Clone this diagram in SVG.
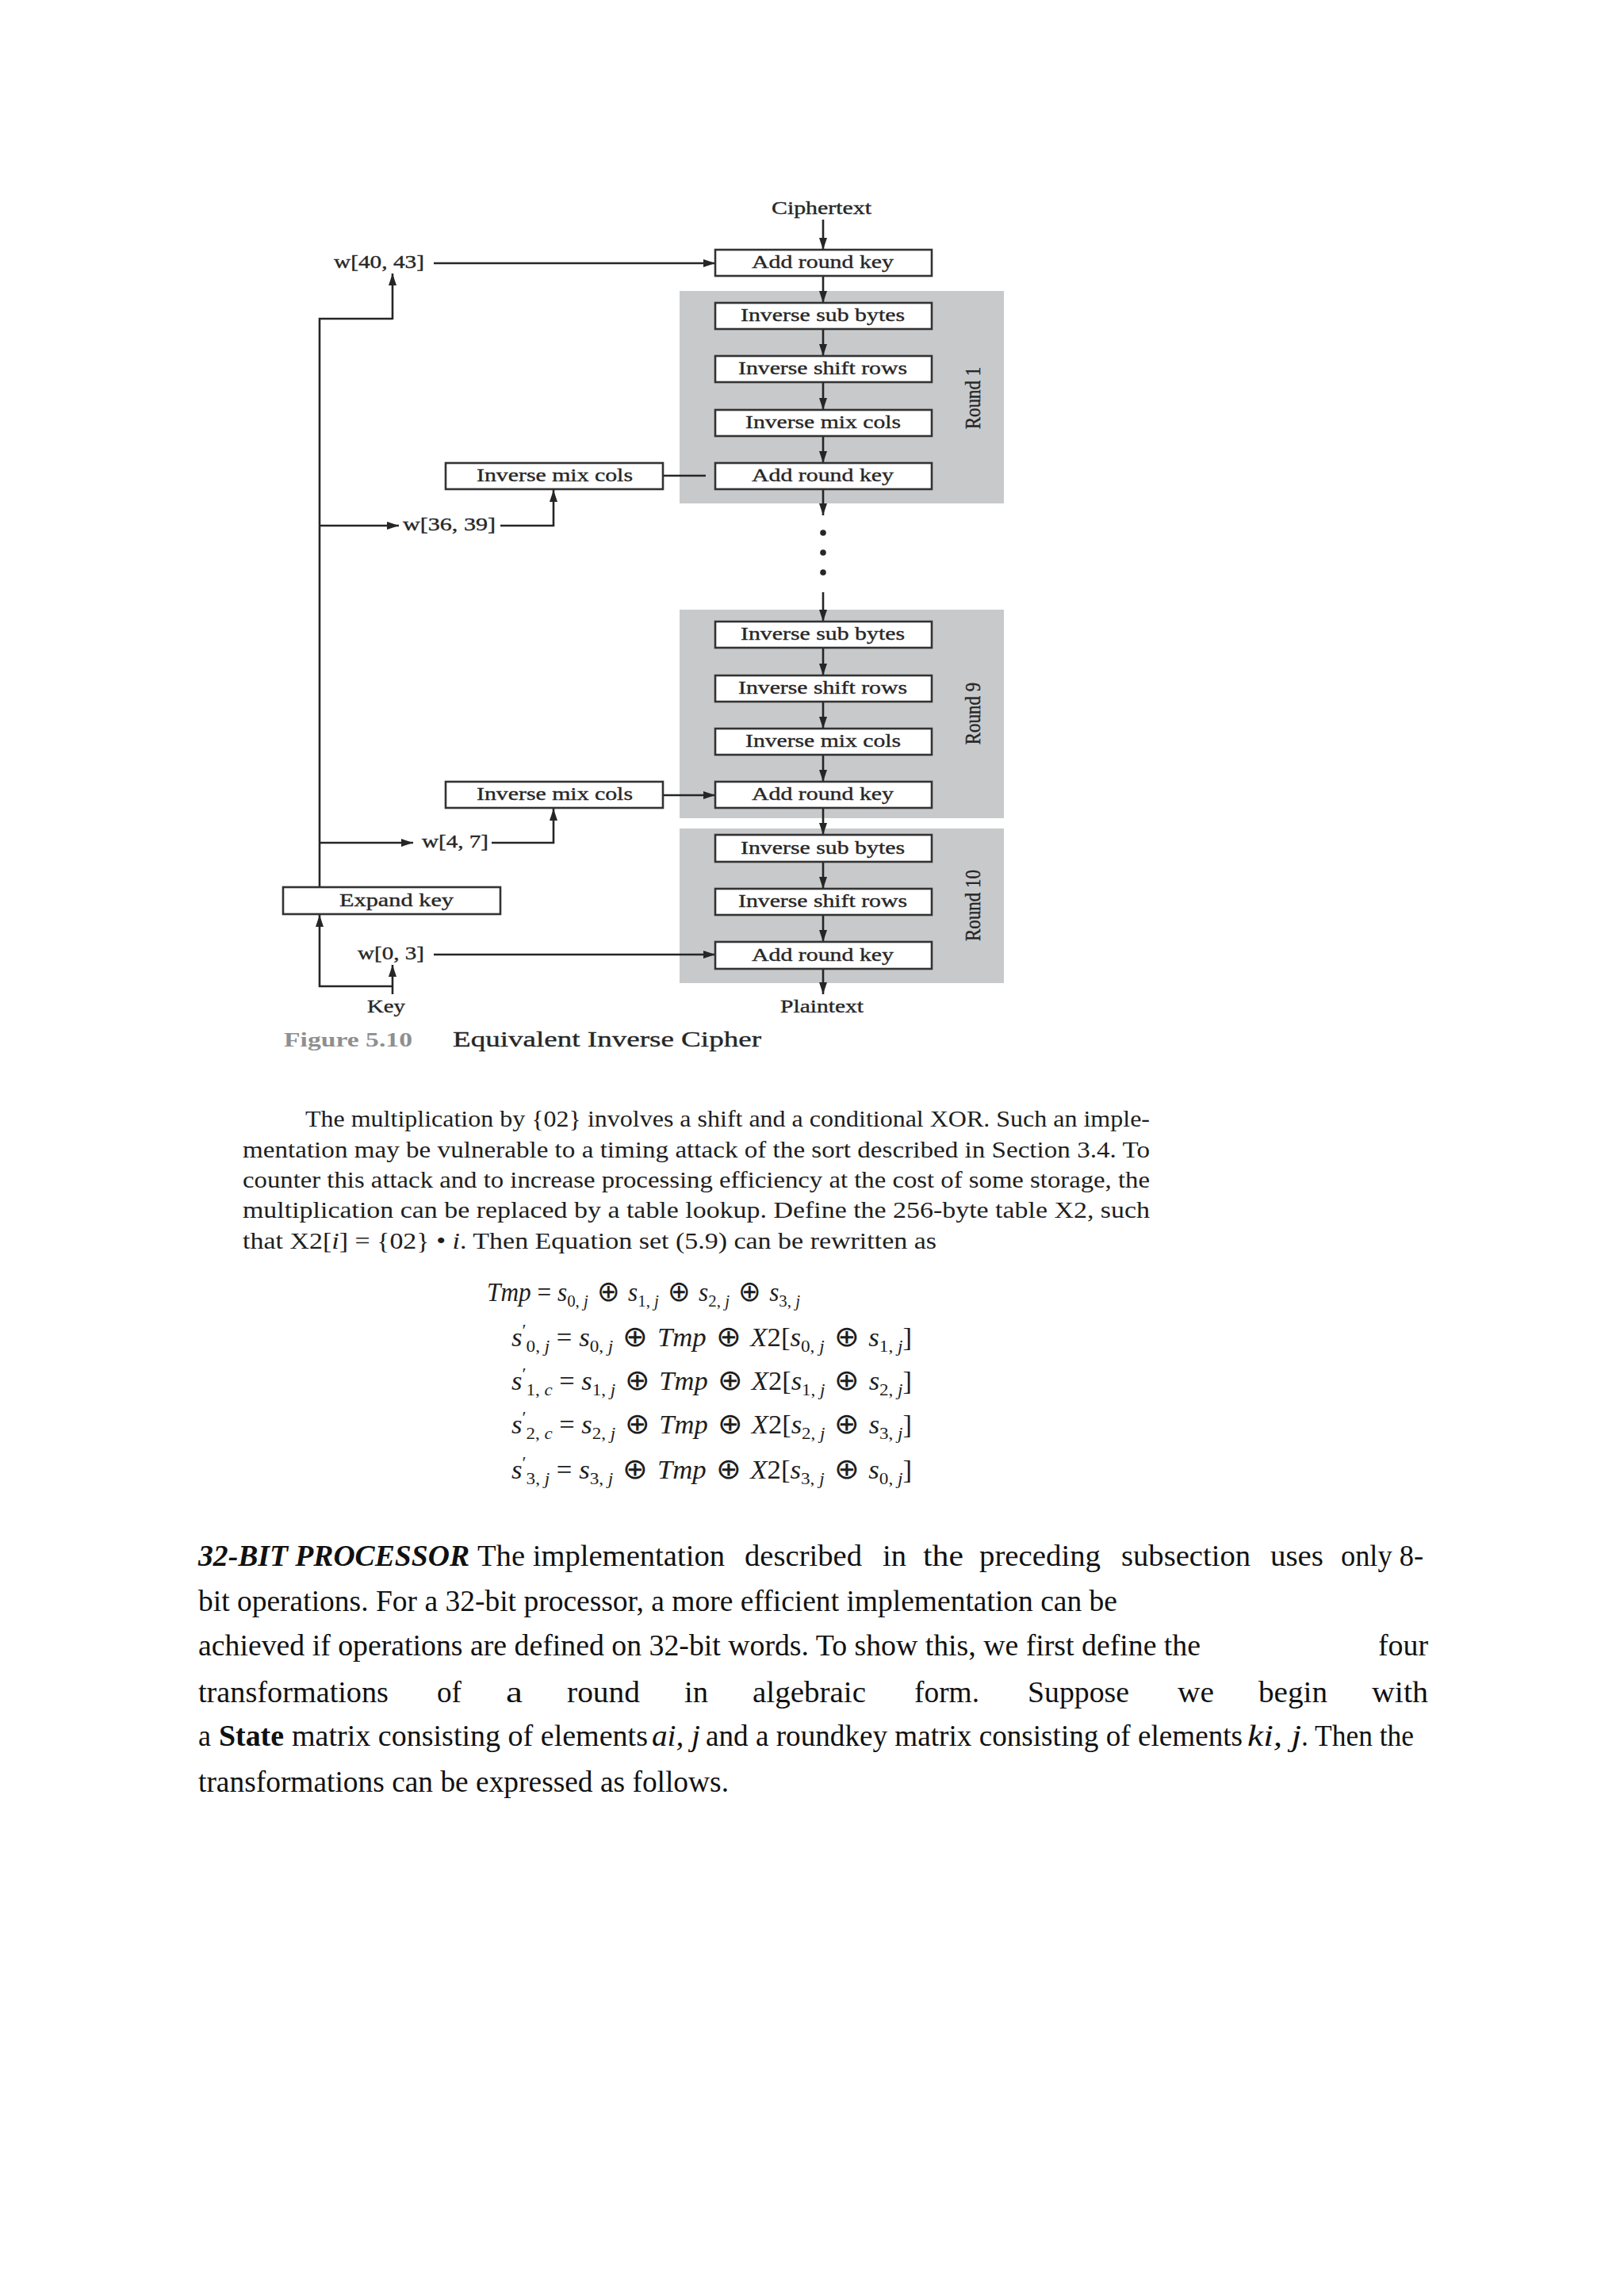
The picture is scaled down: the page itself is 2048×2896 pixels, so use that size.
<svg xmlns="http://www.w3.org/2000/svg" width="2048" height="2896" viewBox="0 0 2048 2896">
<defs>
<style>
.ft{font-family:"Liberation Serif","DejaVu Serif",serif;font-size:23px;fill:#262626;stroke:#262626;stroke-width:0.35}
.box{fill:#ffffff;stroke:#333333;stroke-width:2.6}
.round{fill:#c8c9cb}
.ln{fill:none;stroke:#262626;stroke-width:2.6}
.arr{fill:none;stroke:#262626;stroke-width:2.6;marker-end:url(#ah)}
.p1{font-family:"Liberation Serif","DejaVu Serif",serif;font-size:30px;fill:#1e1e1e}
.eq{font-family:"Liberation Serif","DejaVu Serif",serif;font-size:33px;fill:#1e1e1e}
.sb{font-size:22px;font-style:normal}
.op{font-family:"DejaVu Sans","Liberation Serif",serif;font-size:36px;font-style:normal;font-weight:200}
.p2{font-family:"Liberation Serif","DejaVu Serif",serif;font-size:37px;fill:#111111}
</style>
<marker id="ah" viewBox="0 0 15 10" refX="15" refY="5" markerWidth="15" markerHeight="10" markerUnits="userSpaceOnUse" orient="auto">
<path d="M0,0 L15,5 L0,10 Z" fill="#262626"/>
</marker>
</defs>
<rect x="0" y="0" width="2048" height="2896" fill="#ffffff"/>

<g id="round-bands">
<g id="round1"><rect class="round" x="857" y="367" width="409" height="268"/><text class="ft" text-anchor="middle" transform="translate(1236,502) rotate(-90) scale(1,1.2)">Round 1</text></g>
<g id="round9"><rect class="round" x="857" y="769" width="409" height="263"/><text class="ft" text-anchor="middle" transform="translate(1236,900) rotate(-90) scale(1,1.2)">Round 9</text></g>
<g id="round10"><rect class="round" x="857" y="1045" width="409" height="195"/><text class="ft" text-anchor="middle" transform="translate(1236,1142) rotate(-90) scale(1,1.2)">Round 10</text></g>
</g>

<g id="connectors">
<line class="arr" x1="1038" y1="277" x2="1038" y2="315"/>
<line class="arr" x1="1038" y1="348" x2="1038" y2="382"/>
<line class="arr" x1="1038" y1="415" x2="1038" y2="449"/>
<line class="arr" x1="1038" y1="482" x2="1038" y2="517"/>
<line class="arr" x1="1038" y1="550" x2="1038" y2="584"/>
<line class="arr" x1="1038" y1="617" x2="1038" y2="650"/>
<circle cx="1038" cy="672" r="3.8" fill="#262626"/>
<circle cx="1038" cy="697" r="3.8" fill="#262626"/>
<circle cx="1038" cy="722" r="3.8" fill="#262626"/>
<line class="arr" x1="1038" y1="747" x2="1038" y2="784"/>
<line class="arr" x1="1038" y1="817" x2="1038" y2="852"/>
<line class="arr" x1="1038" y1="885" x2="1038" y2="919"/>
<line class="arr" x1="1038" y1="952" x2="1038" y2="986"/>
<line class="arr" x1="1038" y1="1019" x2="1038" y2="1053"/>
<line class="arr" x1="1038" y1="1087" x2="1038" y2="1121"/>
<line class="arr" x1="1038" y1="1154" x2="1038" y2="1188"/>
<line class="arr" x1="1038" y1="1222" x2="1038" y2="1254"/>
<line class="arr" x1="547" y1="332" x2="902" y2="332"/>
<line class="ln" x1="836" y1="600" x2="890" y2="600"/>
<line class="arr" x1="836" y1="1003" x2="902" y2="1003"/>
<line class="arr" x1="547" y1="1204" x2="902" y2="1204"/>
<polyline class="ln" points="403,1119 403,402 495,402"/>
<line class="arr" x1="495" y1="403" x2="495" y2="345"/>
<line class="arr" x1="403" y1="663" x2="503" y2="663"/>
<polyline class="arr" points="631,663 698,663 698,618"/>
<line class="arr" x1="403" y1="1063" x2="521" y2="1063"/>
<polyline class="arr" points="620,1063 698,1063 698,1020"/>
<line class="arr" x1="495" y1="1254" x2="495" y2="1217"/>
<polyline class="arr" points="496,1244 403,1244 403,1154"/>
</g>

<g id="ciphertext"><text class="ft" x="973" y="270" textLength="126" lengthAdjust="spacingAndGlyphs">Ciphertext</text></g>
<g id="ark0"><rect class="box" x="902" y="315" width="273" height="33"/><text class="ft" x="948" y="338" textLength="179" lengthAdjust="spacingAndGlyphs">Add round key</text></g>
<g id="isb1"><rect class="box" x="902" y="382" width="273" height="33"/><text class="ft" x="934" y="405" textLength="207" lengthAdjust="spacingAndGlyphs">Inverse sub bytes</text></g>
<g id="isr1"><rect class="box" x="902" y="449" width="273" height="33"/><text class="ft" x="931" y="472" textLength="213" lengthAdjust="spacingAndGlyphs">Inverse shift rows</text></g>
<g id="imc1"><rect class="box" x="902" y="517" width="273" height="33"/><text class="ft" x="940" y="540" textLength="196" lengthAdjust="spacingAndGlyphs">Inverse mix cols</text></g>
<g id="ark1"><rect class="box" x="902" y="584" width="273" height="33"/><text class="ft" x="948" y="607" textLength="179" lengthAdjust="spacingAndGlyphs">Add round key</text></g>
<g id="side-imc1"><rect class="box" x="562" y="584" width="274" height="33"/><text class="ft" x="601" y="607" textLength="197" lengthAdjust="spacingAndGlyphs">Inverse mix cols</text></g>
<g id="isb9"><rect class="box" x="902" y="784" width="273" height="33"/><text class="ft" x="934" y="807" textLength="207" lengthAdjust="spacingAndGlyphs">Inverse sub bytes</text></g>
<g id="isr9"><rect class="box" x="902" y="852" width="273" height="33"/><text class="ft" x="931" y="875" textLength="213" lengthAdjust="spacingAndGlyphs">Inverse shift rows</text></g>
<g id="imc9"><rect class="box" x="902" y="919" width="273" height="33"/><text class="ft" x="940" y="942" textLength="196" lengthAdjust="spacingAndGlyphs">Inverse mix cols</text></g>
<g id="ark9"><rect class="box" x="902" y="986" width="273" height="33"/><text class="ft" x="948" y="1009" textLength="179" lengthAdjust="spacingAndGlyphs">Add round key</text></g>
<g id="side-imc9"><rect class="box" x="562" y="986" width="274" height="33"/><text class="ft" x="601" y="1009" textLength="197" lengthAdjust="spacingAndGlyphs">Inverse mix cols</text></g>
<g id="isb10"><rect class="box" x="902" y="1053" width="273" height="34"/><text class="ft" x="934" y="1076.5" textLength="207" lengthAdjust="spacingAndGlyphs">Inverse sub bytes</text></g>
<g id="isr10"><rect class="box" x="902" y="1121" width="273" height="33"/><text class="ft" x="931" y="1144" textLength="213" lengthAdjust="spacingAndGlyphs">Inverse shift rows</text></g>
<g id="ark10"><rect class="box" x="902" y="1188" width="273" height="34"/><text class="ft" x="948" y="1211.5" textLength="179" lengthAdjust="spacingAndGlyphs">Add round key</text></g>
<g id="expand-key"><rect class="box" x="357" y="1119" width="274" height="34"/><text class="ft" x="428" y="1142.5" textLength="144" lengthAdjust="spacingAndGlyphs">Expand key</text></g>
<g id="plaintext"><text class="ft" x="984" y="1277" textLength="105" lengthAdjust="spacingAndGlyphs">Plaintext</text></g>
<g id="key"><text class="ft" x="463" y="1277" textLength="48" lengthAdjust="spacingAndGlyphs">Key</text></g>
<g id="w40"><text class="ft" x="421" y="338" textLength="114" lengthAdjust="spacingAndGlyphs">w[40, 43]</text></g>
<g id="w36"><text class="ft" x="508" y="669" textLength="117" lengthAdjust="spacingAndGlyphs">w[36, 39]</text></g>
<g id="w4"><text class="ft" x="532" y="1069" textLength="84" lengthAdjust="spacingAndGlyphs">w[4, 7]</text></g>
<g id="w0"><text class="ft" x="451" y="1210" textLength="84" lengthAdjust="spacingAndGlyphs">w[0, 3]</text></g>

<g id="caption">
<text class="ft" x="358" y="1320" font-weight="bold" style="fill:#8f8f8f;stroke:none;font-size:25px" textLength="162" lengthAdjust="spacingAndGlyphs">Figure 5.10</text>
<text class="ft" x="571" y="1320" style="font-size:27px" textLength="389" lengthAdjust="spacingAndGlyphs">Equivalent Inverse Cipher</text>
</g>

<g id="paragraph1">
<text class="p1" x="385" y="1421" textLength="1065" lengthAdjust="spacingAndGlyphs">The multiplication by {02} involves a shift and a conditional XOR. Such an imple-</text>
<text class="p1" x="306" y="1460" textLength="1144" lengthAdjust="spacingAndGlyphs">mentation may be vulnerable to a timing attack of the sort described in Section 3.4. To</text>
<text class="p1" x="306" y="1498" textLength="1144" lengthAdjust="spacingAndGlyphs">counter this attack and to increase processing efficiency at the cost of some storage, the</text>
<text class="p1" x="306" y="1536" textLength="1144" lengthAdjust="spacingAndGlyphs">multiplication can be replaced by a table lookup. Define the 256-byte table X2, such</text>
<text class="p1" x="306" y="1575" textLength="875" lengthAdjust="spacingAndGlyphs">that X2[<tspan font-style="italic">i</tspan>] = {02} • <tspan font-style="italic">i</tspan>. Then Equation set (5.9) can be rewritten as</text>
</g>

<g id="equations">
<text class="eq" x="614" y="1641" textLength="395" lengthAdjust="spacingAndGlyphs"><tspan font-style="italic">Tmp</tspan> = <tspan font-style="italic">s</tspan><tspan class="sb" dy="7">0, <tspan font-style="italic">j</tspan></tspan><tspan class="op" dy="-7"> ⊕ </tspan><tspan font-style="italic">s</tspan><tspan class="sb" dy="7">1, <tspan font-style="italic">j</tspan></tspan><tspan class="op" dy="-7"> ⊕ </tspan><tspan font-style="italic">s</tspan><tspan class="sb" dy="7">2, <tspan font-style="italic">j</tspan></tspan><tspan class="op" dy="-7"> ⊕ </tspan><tspan font-style="italic">s</tspan><tspan class="sb" dy="7">3, <tspan font-style="italic">j</tspan></tspan></text>
<text class="eq" x="645" y="1698" textLength="505" lengthAdjust="spacingAndGlyphs"><tspan font-style="italic">s</tspan><tspan class="sb" dy="-13">′</tspan><tspan class="sb" dy="20">0, <tspan font-style="italic">j</tspan></tspan><tspan dy="-7"> = </tspan><tspan font-style="italic">s</tspan><tspan class="sb" dy="7">0, <tspan font-style="italic">j</tspan></tspan><tspan class="op" dy="-7"> ⊕ </tspan><tspan font-style="italic">Tmp</tspan><tspan class="op"> ⊕ </tspan><tspan font-style="italic">X</tspan>2[<tspan font-style="italic">s</tspan><tspan class="sb" dy="7">0, <tspan font-style="italic">j</tspan></tspan><tspan class="op" dy="-7"> ⊕ </tspan><tspan font-style="italic">s</tspan><tspan class="sb" dy="7">1, <tspan font-style="italic">j</tspan></tspan><tspan dy="-7">]</tspan></text>
<text class="eq" x="645" y="1753" textLength="505" lengthAdjust="spacingAndGlyphs"><tspan font-style="italic">s</tspan><tspan class="sb" dy="-13">′</tspan><tspan class="sb" dy="20">1, <tspan font-style="italic">c</tspan></tspan><tspan dy="-7"> = </tspan><tspan font-style="italic">s</tspan><tspan class="sb" dy="7">1, <tspan font-style="italic">j</tspan></tspan><tspan class="op" dy="-7"> ⊕ </tspan><tspan font-style="italic">Tmp</tspan><tspan class="op"> ⊕ </tspan><tspan font-style="italic">X</tspan>2[<tspan font-style="italic">s</tspan><tspan class="sb" dy="7">1, <tspan font-style="italic">j</tspan></tspan><tspan class="op" dy="-7"> ⊕ </tspan><tspan font-style="italic">s</tspan><tspan class="sb" dy="7">2, <tspan font-style="italic">j</tspan></tspan><tspan dy="-7">]</tspan></text>
<text class="eq" x="645" y="1808" textLength="505" lengthAdjust="spacingAndGlyphs"><tspan font-style="italic">s</tspan><tspan class="sb" dy="-13">′</tspan><tspan class="sb" dy="20">2, <tspan font-style="italic">c</tspan></tspan><tspan dy="-7"> = </tspan><tspan font-style="italic">s</tspan><tspan class="sb" dy="7">2, <tspan font-style="italic">j</tspan></tspan><tspan class="op" dy="-7"> ⊕ </tspan><tspan font-style="italic">Tmp</tspan><tspan class="op"> ⊕ </tspan><tspan font-style="italic">X</tspan>2[<tspan font-style="italic">s</tspan><tspan class="sb" dy="7">2, <tspan font-style="italic">j</tspan></tspan><tspan class="op" dy="-7"> ⊕ </tspan><tspan font-style="italic">s</tspan><tspan class="sb" dy="7">3, <tspan font-style="italic">j</tspan></tspan><tspan dy="-7">]</tspan></text>
<text class="eq" x="645" y="1865" textLength="505" lengthAdjust="spacingAndGlyphs"><tspan font-style="italic">s</tspan><tspan class="sb" dy="-13">′</tspan><tspan class="sb" dy="20">3, <tspan font-style="italic">j</tspan></tspan><tspan dy="-7"> = </tspan><tspan font-style="italic">s</tspan><tspan class="sb" dy="7">3, <tspan font-style="italic">j</tspan></tspan><tspan class="op" dy="-7"> ⊕ </tspan><tspan font-style="italic">Tmp</tspan><tspan class="op"> ⊕ </tspan><tspan font-style="italic">X</tspan>2[<tspan font-style="italic">s</tspan><tspan class="sb" dy="7">3, <tspan font-style="italic">j</tspan></tspan><tspan class="op" dy="-7"> ⊕ </tspan><tspan font-style="italic">s</tspan><tspan class="sb" dy="7">0, <tspan font-style="italic">j</tspan></tspan><tspan dy="-7">]</tspan></text>
</g>

<g id="paragraph2">
<text class="p2" x="250" y="1975" font-weight="bold" font-style="italic" textLength="342" lengthAdjust="spacingAndGlyphs">32-BIT PROCESSOR</text>
<text class="p2" x="602" y="1975" textLength="312" lengthAdjust="spacingAndGlyphs">The implementation</text>
<text class="p2" x="939" y="1975" textLength="148" lengthAdjust="spacingAndGlyphs">described</text>
<text class="p2" x="1113" y="1975" textLength="30" lengthAdjust="spacingAndGlyphs">in</text>
<text class="p2" x="1164" y="1975" textLength="51" lengthAdjust="spacingAndGlyphs">the</text>
<text class="p2" x="1235" y="1975" textLength="153" lengthAdjust="spacingAndGlyphs">preceding</text>
<text class="p2" x="1414" y="1975" textLength="163" lengthAdjust="spacingAndGlyphs">subsection</text>
<text class="p2" x="1602" y="1975" textLength="67" lengthAdjust="spacingAndGlyphs">uses</text>
<text class="p2" x="1691" y="1975" textLength="104" lengthAdjust="spacingAndGlyphs">only 8-</text>
<text class="p2" x="250" y="2032" textLength="1159" lengthAdjust="spacingAndGlyphs">bit operations. For a 32-bit processor, a more efficient implementation can be</text>
<text class="p2" x="250" y="2088" textLength="1264" lengthAdjust="spacingAndGlyphs">achieved if operations are defined on 32-bit words. To show this, we first define the</text>
<text class="p2" x="1738" y="2088" textLength="63" lengthAdjust="spacingAndGlyphs">four</text>
<text class="p2" x="250" y="2147" textLength="240" lengthAdjust="spacingAndGlyphs">transformations</text>
<text class="p2" x="551" y="2147" textLength="31" lengthAdjust="spacingAndGlyphs">of</text>
<text class="p2" x="638" y="2147" textLength="21" lengthAdjust="spacingAndGlyphs">a</text>
<text class="p2" x="715" y="2147" textLength="92" lengthAdjust="spacingAndGlyphs">round</text>
<text class="p2" x="863" y="2147" textLength="30" lengthAdjust="spacingAndGlyphs">in</text>
<text class="p2" x="949" y="2147" textLength="143" lengthAdjust="spacingAndGlyphs">algebraic</text>
<text class="p2" x="1153" y="2147" textLength="82" lengthAdjust="spacingAndGlyphs">form.</text>
<text class="p2" x="1296" y="2147" textLength="128" lengthAdjust="spacingAndGlyphs">Suppose</text>
<text class="p2" x="1485" y="2147" textLength="46" lengthAdjust="spacingAndGlyphs">we</text>
<text class="p2" x="1587" y="2147" textLength="87" lengthAdjust="spacingAndGlyphs">begin</text>
<text class="p2" x="1730" y="2147" textLength="71" lengthAdjust="spacingAndGlyphs">with</text>
<text class="p2" x="250" y="2202" textLength="16" lengthAdjust="spacingAndGlyphs">a</text>
<text class="p2" x="276" y="2202" font-weight="bold" textLength="82" lengthAdjust="spacingAndGlyphs">State</text>
<text class="p2" x="368" y="2202" textLength="449" lengthAdjust="spacingAndGlyphs">matrix consisting of elements</text>
<text class="p2" x="822" y="2202" font-style="italic" textLength="61" lengthAdjust="spacingAndGlyphs">ai, j</text>
<text class="p2" x="890" y="2202" textLength="677" lengthAdjust="spacingAndGlyphs">and a roundkey matrix consisting of elements</text>
<text class="p2" x="1573" y="2202" font-style="italic" textLength="68" lengthAdjust="spacingAndGlyphs">ki, j</text>
<text class="p2" x="1641" y="2202" textLength="142" lengthAdjust="spacingAndGlyphs">. Then the</text>
<text class="p2" x="250" y="2260" textLength="669" lengthAdjust="spacingAndGlyphs">transformations can be expressed as follows.</text>
</g>
</svg>
